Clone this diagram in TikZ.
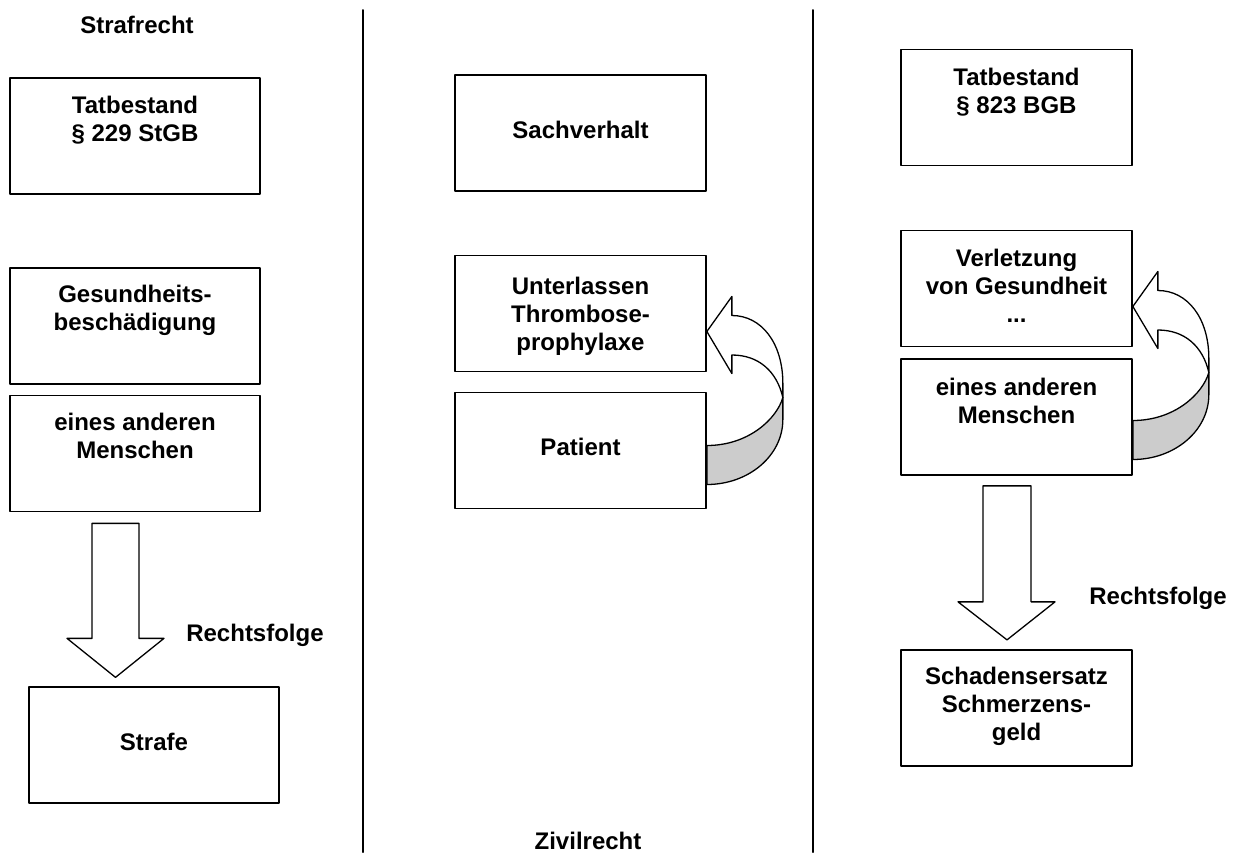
\documentclass[tikz,border=0pt]{standalone}
\usepackage{fontspec}
\setmainfont{Liberation Sans}
\usetikzlibrary{calc}
\usetikzlibrary{positioning}
\tikzstyle{every path}=[line cap=round, line join=round]
\tikzstyle{kasten}=[draw, line width=1.7pt, minimum width=250pt, minimum height=116pt, inner sep=0pt]
\tikzstyle{kastenr}=[kasten, minimum width=231pt]
\tikzstyle{txt}=[font=\bfseries\fontsize{24}{28}\selectfont, align=center, inner sep=0pt]
\tikzstyle{blockpfeil}=[draw, line width=1.3pt, fill=white]
\tikzstyle{trenner}=[line width=2pt]
\tikzset{bogenpfeil/.pic={
  %vorderseite
  \draw[line width=1.3pt, fill=white] (0,18) -- (25,-17) -- (25,2) .. controls (55,2) and (76,30) .. (76,70) -- (76,84) .. controls (70,58) and (52,41.5) .. (25,41.5) -- (25,60) -- cycle;
  %rueckseite
  \draw[line width=1.3pt, fill=gray!40] (0,132) .. controls (42,132) and (70,105) .. (76,84) -- (76,106) .. controls (76,142) and (42,171) .. (0,171) -- cycle;
}}

\begin{document}
\begin{tikzpicture}[x=1pt, y=-1pt]
          \useasboundingbox (0,0) rectangle (1242,852);
          %trennlinien
          \draw[trenner] (363,10) -- (363,852);
          \draw[trenner] (813,10) -- (813,852);
          %ueberschriften
          \node[txt] (straf) at (137,25) {Strafrecht};
          \node[txt, anchor=base] (zivil) at (588,849) {Zivilrecht};
          %linke spalte
          \node[kasten] (tb1) at (135,136) {};
          \node[txt, below=18.5pt of tb1.north] (tb1t) {Tatbestand\\§ 229 StGB};
          \node[kasten] (gb) at (135,326) {};
          \node[txt, below=17.5pt of gb.north] (gbt) {Gesundheits-\\beschädigung};
          \node[kasten] (em1) at (135,453.5) {};
          \node[txt, below=18.5pt of em1.north] (em1t) {eines anderen\\Menschen};
          \node[kasten] (strafe) at (154,745) {};
          \node[txt, below=46.5pt of strafe.north] (strafet) {Strafe};
          %rechtsfolge links
          \draw[blockpfeil] ($(em1.south)+(-43,11)$) -- ++(0,115) -- ++(-25,0) -- ++(48.5,39) -- ++(48.5,-39) -- ++(-25,0) -- ++(0,-115) -- cycle;
          \node[txt] (rf1) at (255,635) {Rechtsfolge};
          %mittlere spalte
          \node[kasten, minimum width=251pt] (sach) at (580.5,133) {};
          \node[txt, below=46.5pt of sach.north] (sacht) {Sachverhalt};
          \node[kasten, minimum width=251pt] (unter) at (580.5,313.5) {};
          \node[txt, below=22.5pt of unter.north] (untert) {Unterlassen\\Thrombose-\\prophylaxe};
          \node[kasten, minimum width=251pt] (pat) at (580.5,450.5) {};
          \node[txt, below=46.5pt of pat.north] (patt) {Patient};
          \pic at (unter.east) {bogenpfeil};
          %rechte spalte
          \node[kastenr] (tb2) at (1016.5,107.5) {};
          \node[txt, below=19.5pt of tb2.north] (tb2t) {Tatbestand\\§ 823 BGB};
          \node[kastenr] (verl) at (1016.5,288.5) {};
          \node[txt, below=19.5pt of verl.north] (verlt) {Verletzung\\von Gesundheit\\...};
          \node[kastenr] (em2) at (1016.5,417) {};
          \node[txt, below=19.5pt of em2.north] (em2t) {eines anderen\\Menschen};
          \pic at (verl.east) {bogenpfeil};
          %rechtsfolge rechts
          \draw[blockpfeil] ($(em2.south)+(-33.5,10)$) -- ++(0,116) -- ++(-25,0) -- ++(49,38) -- ++(48,-38) -- ++(-24,0) -- ++(0,-116) -- cycle;
          \node[txt] (rf2) at (1158,598) {Rechtsfolge};
          \node[kastenr] (schaden) at (1016.5,708) {};
          \node[txt, below=17.5pt of schaden.north] (schadent) {Schadensersatz\\Schmerzens-\\geld};
\end{tikzpicture}
\end{document}
